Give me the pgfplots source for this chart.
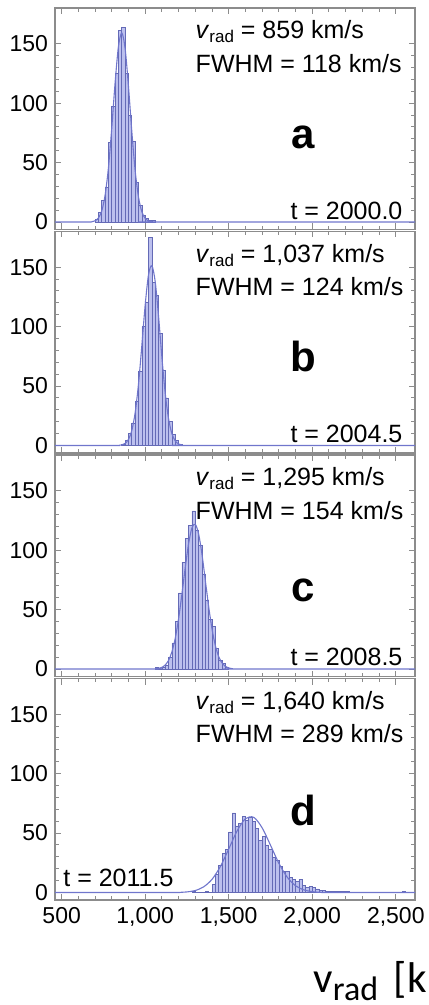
\documentclass[border=0pt]{standalone}
\usepackage{fontspec}
\setmainfont{Liberation Sans}
\newfontfamily\labelfont{Carlito}
\usepackage{pgfplots}
\pgfplotsset{compat=1.18}
\definecolor{barfill}{RGB}{188,192,238}
\definecolor{baredge}{RGB}{100,106,182}
\definecolor{fitcol}{RGB}{112,118,204}
\definecolor{framegray}{RGB}{140,140,140}
\pgfplotsset{
  panel/.style={
    scale only axis, width=180pt, height=110.75pt,
    xmin=460, xmax=2615, ymin=-6.3, ymax=180,
    axis line style={framegray, line width=0.7pt},
    tick style={framegray, line width=0.5pt},
    tick align=inside, tick pos=both,
    major tick length=3pt, minor tick length=1.8pt,
    xtick={500,1000,...,2500}, ytick={0,50,100,150},
    minor x tick num=4, minor y tick num=4,
    tick label style={font=\fontsize{11.5}{13}\selectfont},
    /pgf/number format/assume math mode=true,
    /pgf/number format/1000 sep={,},
    anchor=north west,
  },
  nox/.style={xticklabels={,,,,,}},
  hist/.style={ybar interval, fill=barfill, draw=baredge, line width=0.35pt},
  fit/.style={smooth, fitcol, line width=0.55pt, mark=none},
}
\newcommand{\vlab}[2]{%
  \node[anchor=base west, inner sep=0, font=\fontsize{12.5}{15}\selectfont] at (axis cs:1300,154)
    {\textit{v}\raisebox{-1.8pt}{\fontsize{8.5}{10}\selectfont rad} = #1 km/s};
  \node[anchor=base west, inner sep=0, font=\fontsize{12.5}{15}\selectfont] at (axis cs:1300,126)
    {FWHM = #2 km/s};}
\begin{document}
\begin{tikzpicture}
% ---------- a ----------
\begin{axis}[panel, nox, at={(0pt,0pt)}]
\addplot[hist] coordinates {(700,2)(720,8)(740,18)(760,29)(780,67)(800,97)(820,125)(840,161)(860,164)(880,125)(900,90)(920,68)(940,33)(960,14)(980,6)(1000,3)(1020,1)(1040,1)(1060,0)};
\addplot[fit] coordinates {(460,0)(660,0)(680,0.2)(700,1.0)(720,3.4)(740,9.4)(760,22.6)(780,45.8)(800,79.5)(820,117.5)(840,147.9)(860,159)(880,145.6)(900,113.7)(920,75.8)(940,43.0)(960,20.9)(980,8.5)(1000,3.0)(1020,0.9)(1040,0.2)(1060,0)(2615,0)};
\vlab{859}{118}
\node[anchor=base, inner sep=0, font=\fontsize{21}{24}\selectfont\bfseries] at (axis cs:1944,62) {a};
\node[anchor=base east, inner sep=0, font=\fontsize{12.5}{15}\selectfont] at (axis cs:2542,1.7) {t = 2000.0};
\end{axis}
% ---------- b ----------
\begin{axis}[panel, nox, at={(0pt,-111.75pt)}]
\addplot[hist] coordinates {(860,1)(880,4)(900,10)(920,19)(940,37)(960,62)(980,100)(1000,120)(1020,175)(1040,137)(1060,126)(1080,94)(1100,63)(1120,40)(1140,20)(1160,9)(1180,4)(1200,1)(1220,0)};
\addplot[fit] coordinates {(460,0)(820,0)(840,0.1)(860,0.5)(880,1.8)(900,5.2)(920,12.8)(940,27.7)(960,52.0)(980,84.3)(1000,118.4)(1020,143.8)(1040,151.2)(1060,137.7)(1080,108.5)(1100,74.0)(1120,43.8)(1140,22.3)(1160,9.9)(1180,3.8)(1200,1.3)(1220,0.4)(1240,0)(2615,0)};
\vlab{1,037}{124}
\node[anchor=base, inner sep=0, font=\fontsize{21}{24}\selectfont\bfseries] at (axis cs:1944,62) {b};
\node[anchor=base east, inner sep=0, font=\fontsize{12.5}{15}\selectfont] at (axis cs:2542,2.5) {t = 2004.5};
\end{axis}
% ---------- c ----------
\begin{axis}[panel, nox, at={(0pt,-223.5pt)}]
\addplot[hist] coordinates {(1060,1)(1080,0)(1100,1)(1120,3)(1140,10)(1160,22)(1180,40)(1200,64)(1220,90)(1240,110)(1260,121)(1280,133)(1300,117)(1320,104)(1340,80)(1360,58)(1380,42)(1400,36)(1420,17)(1440,7)(1460,5)(1480,1)(1500,0)};
\addplot[fit] coordinates {(460,0)(1040,0)(1060,0.2)(1080,0.5)(1100,1.4)(1120,3.4)(1140,7.3)(1160,14.5)(1180,26)(1200,42.6)(1220,63.2)(1240,85.6)(1260,105.7)(1280,118.8)(1300,121.7)(1320,113.4)(1340,96.3)(1360,74.4)(1380,52.4)(1400,33.6)(1420,19.6)(1440,10.4)(1460,5.1)(1480,2.2)(1500,0.9)(1520,0.3)(1540,0)(2615,0)};
\vlab{1,295}{154}
\node[anchor=base, inner sep=0, font=\fontsize{21}{24}\selectfont\bfseries] at (axis cs:1944,57) {c};
\node[anchor=base east, inner sep=0, font=\fontsize{12.5}{15}\selectfont] at (axis cs:2542,2.8) {t = 2008.5};
\end{axis}
% ---------- d ----------
\begin{axis}[panel, at={(0pt,-335.25pt)}]
\addplot[hist] coordinates {(1280,1)(1300,0)(1360,1)(1380,0)(1400,7)(1420,15)(1440,23)(1460,33)(1480,36)(1500,51)(1520,67)(1540,56)(1560,58)(1580,64)(1600,61)(1620,63)(1640,60)(1660,54)(1680,44)(1700,47)(1720,40)(1740,36)(1760,30)(1780,27)(1800,22)(1820,18)(1840,18)(1860,13)(1880,11)(1900,9)(1920,11)(1940,6)(1960,4)(1980,5)(2000,4)(2020,3)(2040,2)(2060,2)(2080,1)(2100,1)(2120,1)(2140,1)(2160,1)(2180,1)(2200,1)(2220,0)(2540,1)(2560,0)};
\addplot[fit] coordinates {(460,0)(1150,0)(1200,0.1)(1250,0.5)(1300,1.7)(1350,4.8)(1400,11.1)(1450,21.9)(1500,36.6)(1550,51.8)(1600,62.1)(1650,63.2)(1700,54.4)(1750,39.8)(1800,24.6)(1850,12.9)(1900,5.7)(1950,2.2)(2000,0.7)(2050,0.2)(2100,0)(2615,0)};
\vlab{1,640}{289}
\node[anchor=base, inner sep=0, font=\fontsize{21}{24}\selectfont\bfseries] at (axis cs:1944,56) {d};
\node[anchor=base west, inner sep=0, font=\fontsize{12.5}{15}\selectfont] at (axis cs:508,5.3) {t = 2011.5};
\end{axis}
\node[anchor=base west, inner sep=0, font=\labelfont\fontsize{21.5}{24}\selectfont] at (129pt,-492pt)
  {v\raisebox{-4pt}{\fontsize{17}{19}\selectfont rad}\hspace{3pt} [km/s]};
\pgfresetboundingbox
\useasboundingbox (-27.5pt,4pt) rectangle (186.5pt,-498.5pt);
\end{tikzpicture}
\end{document}
